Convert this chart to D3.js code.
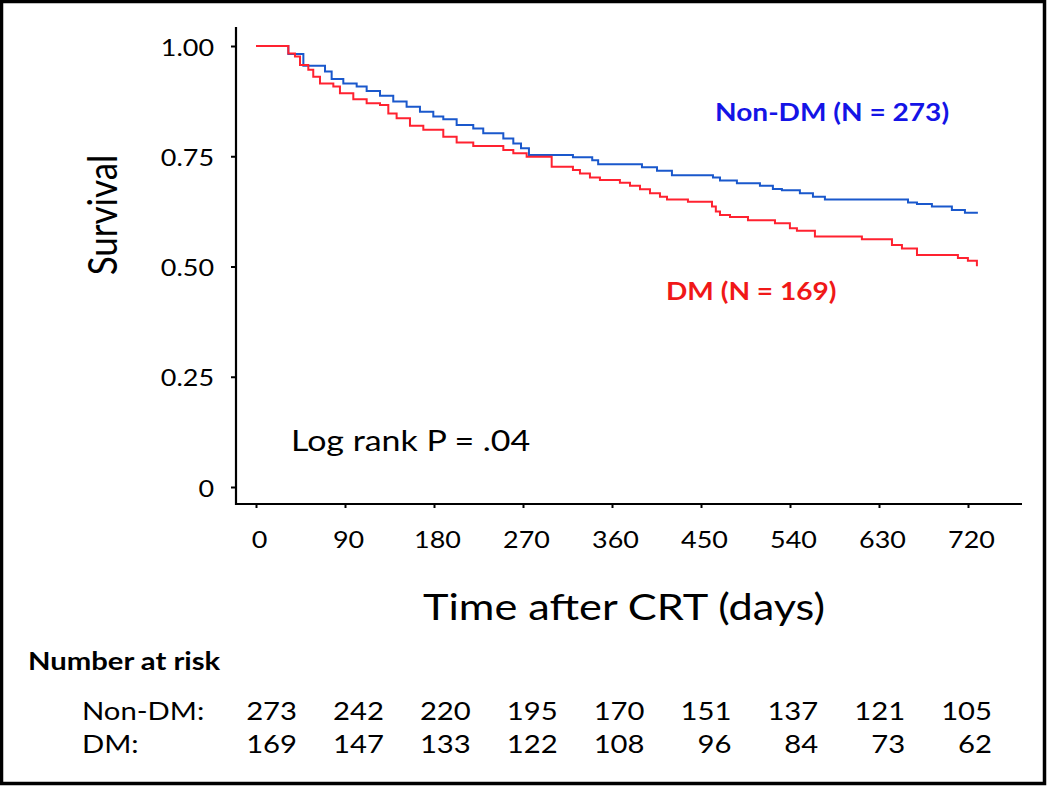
<!DOCTYPE html>
<html>
<head>
<meta charset="utf-8">
<script src="https://cdn.jsdelivr.net/npm/d3@7"></script>
<style>
  body { margin: 0; background: #fff; }
  text { font-family: Lato, 'Open Sans', sans-serif; fill: #000; }
</style>
</head>
<body>
<div id="km-chart"></div>
<script>
// time points of the axis / risk table
const timeTicks = [0, 90, 180, 270, 360, 450, 540, 630, 720];
const survTicks = [0, 0.25, 0.5, 0.75, 1];
const survTickLabels = ['0', '0.25', '0.50', '0.75', '1.00'];

// Kaplan-Meier steps (day, survival after the drop)
const nonDmDays = [0, 32.7, 47.9, 69.8, 76.5, 88.3, 101.8, 111.9, 125.4, 138.8, 152.3, 165.8, 179.3, 189.4,
  202.9, 219.7, 229.8, 250.1, 260.2, 268, 276, 320.5, 340, 346, 390.3, 405.5, 420.6, 462.1, 469.2, 486.3,
  509.6, 522.7, 531.8, 550, 563.2, 575.3, 659.3, 668.4, 683.5, 703.7, 716.9, 730];
const nonDmSurv = [1, 0.982, 0.955, 0.942, 0.925, 0.915, 0.908, 0.898, 0.887, 0.874, 0.862, 0.851, 0.840, 0.834,
  0.821, 0.813, 0.802, 0.790, 0.779, 0.768, 0.753, 0.748, 0.741, 0.732, 0.725, 0.717, 0.707, 0.702, 0.695, 0.689,
  0.683, 0.676, 0.673, 0.666, 0.658, 0.652, 0.645, 0.642, 0.636, 0.628, 0.622, 0.622];

const dmDays = [0, 32.7, 39.4, 44.5, 52.9, 57.9, 64.7, 78.2, 84.9, 98.4, 111.9, 125.4, 133.8, 142.2, 155.7,
  169.2, 189.4, 202.9, 219.7, 250.1, 260.2, 273.7, 299, 320.5, 327.6, 337.7, 347.8, 368, 378.2, 388.3, 398.4,
  408.5, 415.6, 436.8, 461.1, 465, 469.2, 479.3, 497.5, 524.8, 539.9, 547, 565.2, 612.7, 643.1, 653.2, 668.4,
  709.8, 719.9, 729, 730];
const dmSurv = [1, 0.983, 0.976, 0.957, 0.946, 0.930, 0.915, 0.908, 0.893, 0.879, 0.870, 0.866, 0.847, 0.836, 0.819,
  0.810, 0.794, 0.781, 0.773, 0.764, 0.757, 0.749, 0.726, 0.719, 0.711, 0.702, 0.696, 0.690, 0.683, 0.675, 0.666,
  0.658, 0.652, 0.647, 0.636, 0.625, 0.617, 0.612, 0.605, 0.598, 0.587, 0.581, 0.568, 0.562, 0.549, 0.541, 0.526,
  0.519, 0.513, 0.503, 0.503];

// number at risk
const nonDmAtRisk = [273, 242, 220, 195, 170, 151, 137, 121, 105];
const dmAtRisk = [169, 147, 133, 122, 108, 96, 84, 73, 62];

document.addEventListener('DOMContentLoaded', () => {
  const width = 1050;
  const height = 786;
  const stretch = 1.17;   // the source text is a bit wide

  const svg = d3.select('#km-chart')
                .append('svg')
                .attr('width', width)
                .attr('height', height);

  svg.append('rect')
     .attr('x', 1.5)
     .attr('y', 1.5)
     .attr('width', 1043)
     .attr('height', 782)
     .attr('fill', '#fff')
     .attr('stroke', '#000')
     .attr('stroke-width', 3.5);

  const xScale = d3.scaleLinear()
                   .domain([0, 720])
                   .range([256, 968]);

  const yScale = d3.scaleLinear()
                   .domain([0, 1])
                   .range([487, 46]);

  const axisX = 236;
  const axisY = 504;

  // axes
  const yAxis = d3.axisLeft(yScale)
                  .tickValues(survTicks)
                  .tickFormat((d, i) => survTickLabels[i])
                  .tickSize(5)
                  .tickSizeOuter(0);

  const gy = svg.append('g')
                .attr('transform', 'translate(' + axisX + ', 0)')
                .call(yAxis);
  gy.select('.domain').remove();
  gy.selectAll('line').attr('stroke', '#000').attr('stroke-width', 2);
  gy.selectAll('text')
    .attr('x', 0)
    .attr('dy', null)
    .attr('dominant-baseline', 'central')
    .attr('transform', 'translate(-22, 0) scale(' + stretch + ', 1)')
    .style('font-size', '23px');

  const xAxis = d3.axisBottom(xScale)
                  .tickValues(timeTicks)
                  .tickFormat(d3.format('d'))
                  .tickSize(4)
                  .tickSizeOuter(0);

  const gx = svg.append('g')
                .attr('transform', 'translate(0, ' + axisY + ')')
                .call(xAxis);
  gx.select('.domain').remove();
  gx.selectAll('line').attr('stroke', '#000').attr('stroke-width', 2);
  gx.selectAll('text')
    .attr('y', 0)
    .attr('dy', null)
    .attr('transform', 'translate(3, 44) scale(' + stretch + ', 1)')
    .style('font-size', '23px');

  svg.append('line')
     .attr('x1', axisX).attr('x2', axisX)
     .attr('y1', 27).attr('y2', axisY + 1)
     .attr('stroke', '#000').attr('stroke-width', 2.2);

  svg.append('line')
     .attr('x1', axisX - 1).attr('x2', 1022)
     .attr('y1', axisY).attr('y2', axisY)
     .attr('stroke', '#000').attr('stroke-width', 2.2);

  // curves
  const line = d3.line()
                 .x(d => xScale(d[0]))
                 .y(d => yScale(d[1]))
                 .curve(d3.curveStepAfter);

  svg.append('path')
     .datum(nonDmDays.map((d, i) => [d, nonDmSurv[i]]))
     .attr('d', line)
     .attr('fill', 'none')
     .attr('stroke', '#1a58cc')
     .attr('stroke-width', 2);

  svg.append('path')
     .datum(dmDays.map((d, i) => [d, dmSurv[i]]))
     .attr('d', line)
     .attr('fill', 'none')
     .attr('stroke', '#ff2230')
     .attr('stroke-width', 2);

  // labels
  function label(txt, x, y, size, opts) {
    opts = opts || {};
    const t = svg.append('text')
                 .attr('transform', 'translate(' + x + ', ' + y + ') ' + (opts.rotate ? 'scale(' + stretch + ', 1) rotate(-90)' : 'scale(' + stretch + ', 1)'))
                 .attr('text-anchor', opts.anchor || 'start')
                 .style('font-size', size + 'px')
                 .text(txt);
    if (opts.bold) t.style('font-weight', 'bold');
    if (opts.color) t.style('fill', opts.color);
    return t;
  }

  label('Survival', 117, 215, 35, { rotate: true, anchor: 'middle' });
  label('Time after CRT (days)', 624, 620, 37, { anchor: 'middle' });
  label('Log rank P = .04', 291, 451, 29);
  label('Non-DM (N = 273)', 715, 121, 24, { bold: true, color: '#1414e6' });
  label('DM (N = 169)', 666, 300, 24, { bold: true, color: '#f01818' });

  // risk table
  label('Number at risk', 28, 670, 25, { bold: true });
  label('Non-DM:', 82, 720, 25);
  label('DM:', 82, 753, 25);

  const tableScale = d3.scaleLinear()
                       .domain([0, 720])
                       .range([297, 992]);

  timeTicks.forEach((t, i) => {
    label(nonDmAtRisk[i], tableScale(t), 720, 25, { anchor: 'end' });
    label(dmAtRisk[i], tableScale(t), 753, 25, { anchor: 'end' });
  });
});
</script>
</body>
</html>
